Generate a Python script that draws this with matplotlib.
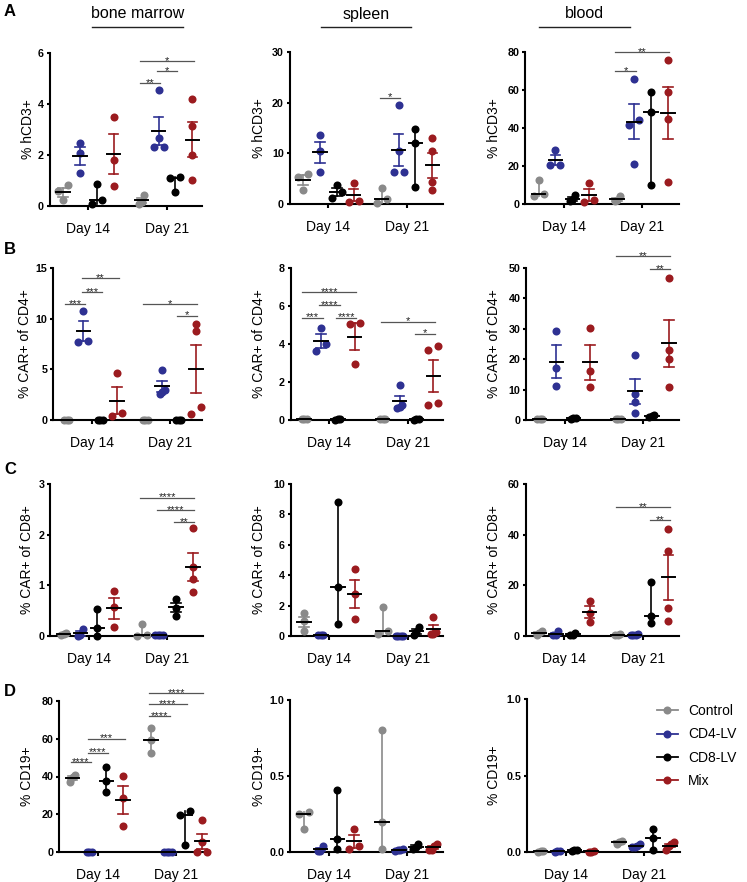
import matplotlib
matplotlib.use('Agg')
import matplotlib.pyplot as plt
from matplotlib.lines import Line2D
import matplotlib.transforms as mtransforms
import numpy as np

plt.rcParams['font.family'] = ['Liberation Sans', 'DejaVu Sans']

groups = ['Control', 'CD4-LV', 'CD8-LV', 'Mix']
days = ['Day 14', 'Day 21']
tissues = ['bone marrow', 'spleen', 'blood']
ylabels = ['% hCD3+', '% CAR+ of CD4+', '% CAR+ of CD8+', '% CD19+']
panel_letters = ['A', 'B', 'C', 'D']
colors = ['#8a8a8a', '#2e3192', '#000000', '#9b1b1f']

# order in each list: Control, CD4-LV, CD8-LV, Mix at Day 14, then the same at Day 21
hcd3_bm = [[0.81, 0.59, 0.22], [2.48, 2.09, 1.31], [0.88, 0.22, 0.07], [3.48, 1.82, 0.80],
           [0.42, 0.16, 0.07], [4.55, 2.65, 2.30, 2.30], [1.15, 1.10, 0.55], [4.20, 3.15, 2.00, 1.02]]
hcd3_sp = [[6.0, 5.3, 2.8], [13.6, 10.5, 6.4], [3.7, 2.3, 1.1], [4.1, 0.6, 0.4],
           [3.1, 1.0, 0.2], [19.5, 10.5, 6.4, 6.3], [14.9, 12.1, 3.3], [13.0, 10.4, 4.3, 2.7]]
hcd3_bl = [[12.8, 5.4, 4.4], [28.6, 20.7, 20.7], [4.6, 2.3, 1.4], [11.1, 2.3, 1.2],
           [4.0, 2.3, 1.4], [66.0, 44.4, 41.8, 21.2], [59.0, 48.2, 9.8], [76.0, 58.8, 44.9, 11.6]]
car4_bm = [[0.02, 0.01, 0.0], [10.8, 7.8, 7.7], [0.02, 0.01, 0.0], [4.6, 0.72, 0.4],
           [0.02, 0.01, 0.0], [4.95, 3.0, 2.8, 2.6], [0.03, 0.02, 0.01], [9.5, 8.8, 1.25, 0.6]]
car4_sp = [[0.06, 0.05, 0.04], [4.82, 4.0, 3.65], [0.04, 0.03, 0.02], [5.13, 5.04, 2.96],
           [0.06, 0.05, 0.04], [1.85, 0.8, 0.7, 0.62], [0.04, 0.03, 0.02], [3.9, 3.71, 0.87, 0.79]]
car4_bl = [[0.4, 0.3, 0.2], [29.4, 17.0, 11.3], [0.7, 0.5, 0.3], [30.1, 16.1, 10.9],
           [0.4, 0.3, 0.2], [21.3, 8.4, 5.8, 2.2], [1.5, 1.2, 0.9], [46.7, 23.0, 20.2, 10.9]]
car8_bm = [[0.05, 0.03, 0.01], [0.14, 0.01, 0.0], [0.53, 0.16, 0.0], [0.88, 0.58, 0.18],
           [0.24, 0.02, 0.0], [0.02, 0.01, 0.02, 0.01], [0.73, 0.56, 0.40], [2.14, 1.36, 1.12, 0.86]]
car8_sp = [[1.5, 1.0, 0.3], [0.06, 0.05, 0.04], [8.84, 3.25, 0.77], [4.4, 2.75, 1.15],
           [1.93, 0.3, 0.13], [0.03, 0.02, 0.02, 0.01], [0.6, 0.25, 0.05], [1.27, 0.25, 0.12, 0.1]]
car8_bl = [[2.0, 1.0, 0.5], [1.8, 0.3, 0.2], [1.2, 0.4, 0.3], [13.8, 8.9, 5.4],
           [0.6, 0.5, 0.4], [0.6, 0.4, 0.3, 0.2], [21.4, 7.9, 5.0], [42.1, 33.7, 10.9, 5.9]]
cd19_bm = [[41.0, 39.6, 37.2], [0.1, 0.1, 0.1], [45.0, 37.6, 32.0], [40.3, 28.5, 14.0],
           [65.9, 59.2, 52.2], [0.1, 0.1, 0.1, 0.1], [21.5, 19.7, 3.5], [16.7, 5.4, 0.2, 0.1]]
cd19_sp = [[0.26, 0.25, 0.15], [0.04, 0.005, 0.005], [0.41, 0.085, 0.022], [0.15, 0.04, 0.02],
           [0.8, 0.2, 0.022], [0.02, 0.01, 0.01, 0.005], [0.05, 0.035, 0.02], [0.055, 0.04, 0.015, 0.01]]
cd19_bl = [[0.008, 0.005, 0.003], [0.006, 0.004, 0.003], [0.015, 0.01, 0.005], [0.005, 0.003, 0.002],
           [0.075, 0.065, 0.05], [0.05, 0.04, 0.035, 0.03], [0.15, 0.09, 0.01], [0.065, 0.052, 0.04, 0.01]]

# summary shown per group: 'sem' = mean +/- SEM, 'range' = median with range
hcd3_bm_stat = ['sem', 'sem', 'range', 'sem', 'sem', 'sem', 'range', 'sem']
hcd3_sp_stat = ['sem', 'sem', 'sem', 'sem', 'range', 'sem', 'range', 'sem']
hcd3_bl_stat = ['range', 'sem', 'sem', 'sem', 'sem', 'sem', 'range', 'sem']
car4_bm_stat = ['sem'] * 8
car4_sp_stat = ['sem'] * 8
car4_bl_stat = ['sem'] * 8
car8_bm_stat = ['sem', 'sem', 'range', 'sem', 'range', 'sem', 'sem', 'sem']
car8_sp_stat = ['sem', 'sem', 'range', 'sem', 'range', 'sem', 'sem', 'sem']
car8_bl_stat = ['sem', 'sem', 'sem', 'sem', 'sem', 'sem', 'range', 'sem']
cd19_bm_stat = ['sem', 'sem', 'range', 'sem', 'range', 'sem', 'range', 'sem']
cd19_sp_stat = ['range', 'sem', 'range', 'sem', 'range', 'sem', 'sem', 'sem']
cd19_bl_stat = ['sem', 'sem', 'sem', 'sem', 'sem', 'sem', 'range', 'sem']

# significance: (day index, group i, group j, bar height, label)
hcd3_bm_sig = [(1, 0, 1, 4.82, '**'), (1, 1, 2, 5.28, '*'), (1, 0, 3, 5.67, '*')]
hcd3_sp_sig = [(1, 0, 1, 21.0, '*')]
hcd3_bl_sig = [(1, 0, 1, 69.8, '*'), (1, 0, 3, 80.0, '**')]
car4_bm_sig = [(0, 0, 1, 11.4, '***'), (0, 1, 2, 12.6, '***'), (0, 1, 3, 14.0, '**'),
               (1, 0, 3, 11.4, '*'), (1, 2, 3, 10.3, '*')]
car4_sp_sig = [(0, 0, 1, 5.38, '***'), (0, 1, 2, 6.04, '****'), (0, 2, 3, 5.39, '****'),
               (0, 0, 3, 6.74, '****'), (1, 0, 3, 5.17, '*'), (1, 2, 3, 4.55, '*')]
car4_bl_sig = [(1, 0, 3, 53.8, '**'), (1, 2, 3, 49.6, '**')]
car8_bm_sig = [(1, 0, 3, 2.73, '****'), (1, 1, 3, 2.49, '****'), (1, 2, 3, 2.25, '**')]
car8_sp_sig = []
car8_bl_sig = [(1, 0, 3, 50.9, '**'), (1, 2, 3, 45.8, '**')]
cd19_bm_sig = [(0, 0, 1, 47.5, '****'), (0, 1, 2, 52.7, '****'), (0, 1, 3, 60.1, '***'),
               (1, 0, 1, 72.0, '****'), (1, 0, 2, 78.2, '****'), (1, 0, 3, 84.2, '****')]
cd19_sp_sig = []
cd19_bl_sig = []

# y-axis ticks per row/column
hcd3_ticks = [[0, 2, 4, 6], [0, 10, 20, 30], [0, 20, 40, 60, 80]]
car4_ticks = [[0, 5, 10, 15], [0, 2, 4, 6, 8], [0, 10, 20, 30, 40, 50]]
car8_ticks = [[0, 1, 2, 3], [0, 2, 4, 6, 8, 10], [0, 20, 40, 60]]
cd19_ticks = [[0, 20, 40, 60, 80], [0.0, 0.5, 1.0], [0.0, 0.5, 1.0]]

panel_data = [[hcd3_bm, hcd3_sp, hcd3_bl], [car4_bm, car4_sp, car4_bl],
              [car8_bm, car8_sp, car8_bl], [cd19_bm, cd19_sp, cd19_bl]]
panel_stat = [[hcd3_bm_stat, hcd3_sp_stat, hcd3_bl_stat], [car4_bm_stat, car4_sp_stat, car4_bl_stat],
              [car8_bm_stat, car8_sp_stat, car8_bl_stat], [cd19_bm_stat, cd19_sp_stat, cd19_bl_stat]]
panel_sig = [[hcd3_bm_sig, hcd3_sp_sig, hcd3_bl_sig], [car4_bm_sig, car4_sp_sig, car4_bl_sig],
             [car8_bm_sig, car8_sp_sig, car8_bl_sig], [cd19_bm_sig, cd19_sp_sig, cd19_bl_sig]]
panel_ticks = [hcd3_ticks, car4_ticks, car8_ticks, cd19_ticks]

# ---------------- layout (pixels) ----------------
W, H = 747, 882
fig = plt.figure(figsize=(W / 100, H / 100), dpi=100)

rects = [  # left, top, right, bottom
    [(49.5, 53, 202, 206), (289.5, 52, 443, 204), (525, 52, 679, 204)],
    [(53, 268, 202, 420), (290.5, 268, 443, 420), (526, 268, 679, 420)],
    [(50, 484, 203, 636), (290.5, 484, 443, 636), (525.5, 484, 679, 636)],
    [(59, 701, 209, 852), (290, 700, 443, 852), (527, 699, 680, 852)],
]
ylabel_x = [[28, 259, 494], [25, 259, 494], [27, 259, 494], [27, 259, 494]]
letter_y = [12, 250, 470, 692]

day_pos = [0.0, 4.65]
grp_off = [-1.5, -0.5, 0.5, 1.5]
PXU = 16.9  # pixels per x unit
XL = -2.3

MS = 5.8   # marker size (pt)
DPX = 8.0  # marker diameter (px)


def swarm(ax, xc, vals):
    pts = ax.transData.transform(np.column_stack([np.full(len(vals), xc), vals]))
    py = pts[:, 1]
    order = np.argsort(py)
    offs = np.zeros(len(vals))
    clusters = [[order[0]]]
    for k in order[1:]:
        if py[k] - py[clusters[-1][-1]] < DPX * 0.85:
            clusters[-1].append(k)
        else:
            clusters.append([k])
    for cl in clusters:
        n = len(cl)
        if n == 1:
            continue
        sp = 10.0 if n == 2 else 2.5
        for i, k in enumerate(cl):
            offs[k] = (i - (n - 1) / 2) * sp
    return offs / PXU


for r in range(4):
    for c in range(3):
        l, t, rr, b = rects[r][c]
        ax = fig.add_axes([l / W, 1 - b / H, (rr - l) / W, (b - t) / H])
        ticks = panel_ticks[r][c]
        ax.set_ylim(0, ticks[-1])
        ax.set_xlim(XL, XL + (rr - l) / PXU)
        ax.set_yticks(ticks)
        if isinstance(ticks[-1], float):
            ax.set_yticklabels(['%.1f' % v for v in ticks])
        else:
            ax.set_yticklabels(['%d' % v for v in ticks])
        ax.set_xticks(day_pos)
        ax.set_xticklabels(days)
        for s in ['top', 'right']:
            ax.spines[s].set_visible(False)
        for s in ['left', 'bottom']:
            ax.spines[s].set_linewidth(1.5)
        ax.tick_params(axis='y', length=2.5, width=1.5, pad=1.5, labelsize=7.7)
        ax.tick_params(axis='x', length=3, width=1.5, pad=8.5, labelsize=10)
        for lab in ax.get_yticklabels():
            lab.set_fontweight('bold')
        ax.patch.set_visible(False)

        data = panel_data[r][c]
        stat = panel_stat[r][c]
        for gi in range(8):
            d, g = divmod(gi, 4)
            xc = day_pos[d] + grp_off[g]
            vals = np.array(data[gi], dtype=float)
            col = colors[g]
            offs = swarm(ax, xc, vals)
            ax.plot(xc + offs, vals, 'o', ms=MS, mec='none', color=col, zorder=3, clip_on=False)
            if stat[gi] == 'sem':
                ctr = vals.mean()
                e = vals.std(ddof=1) / np.sqrt(len(vals))
                lo, hi = ctr - e, ctr + e
                ax.plot([xc, xc], [lo, hi], color=col, lw=1.2, zorder=4, clip_on=False)
                for yy in (lo, hi):
                    ax.plot([xc - 0.28, xc + 0.28], [yy, yy], color=col, lw=1.2, zorder=4,
                            clip_on=False)
            else:
                ctr = np.median(vals)
                ax.plot([xc, xc], [vals.min(), vals.max()], color=col, lw=1.2, zorder=4,
                        clip_on=False)
            ax.plot([xc - 0.4, xc + 0.4], [ctr, ctr], color='black', lw=1.4, zorder=5,
                    clip_on=False)

        star_tr = mtransforms.offset_copy(ax.transData, fig=fig, x=0, y=-2.0, units='points')
        for (d, gi, gj, yv, lab) in panel_sig[r][c]:
            x1 = day_pos[d] + grp_off[gi] - 0.1
            x2 = day_pos[d] + grp_off[gj] + 0.1
            ax.plot([x1, x2], [yv, yv], color='#555555', lw=0.9, clip_on=False, zorder=2)
            ax.text((x1 + x2) / 2, yv, lab, transform=star_tr, ha='center', va='baseline',
                    fontsize=8, color='#222222')

        fig.text(ylabel_x[r][c] / W, 1 - ((t + b) / 2) / H, ylabels[r], rotation=90,
                 ha='center', va='center', fontsize=10)

    fig.text(4 / W, 1 - letter_y[r] / H, panel_letters[r], fontsize=12, fontweight='bold',
             ha='left', va='center')

# tissue headers
hdr_x = [137.5, 366, 584.5]
hdr_line = [(92, 183), (321, 411), (539, 630)]
for c in range(3):
    fig.text(hdr_x[c] / W, 1 - 14 / H, tissues[c], ha='center', va='center', fontsize=11.5)
    x1, x2 = hdr_line[c]
    fig.add_artist(Line2D([x1 / W, x2 / W], [1 - 27 / H, 1 - 27 / H], color='#222222', lw=1.0))

# legend
handles = [Line2D([0], [0], color=colors[g], marker='o', ms=MS, mec='none', lw=1.3)
           for g in range(4)]
fig.legend(handles, groups, loc='upper left', bbox_to_anchor=(657 / W, 1 - 704 / H),
           frameon=False, fontsize=10, handlelength=1.5, handletextpad=0.75,
           labelspacing=0.68, borderpad=0, borderaxespad=0)

fig.savefig('out.png', dpi=100)
